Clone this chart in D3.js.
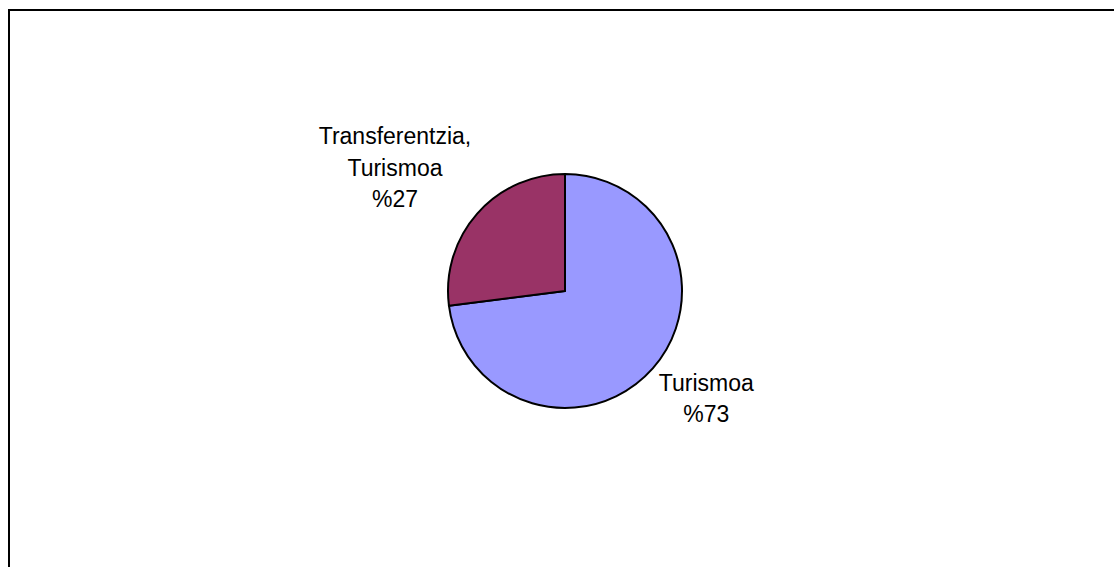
<!DOCTYPE html>
<html>
<head>
<meta charset="utf-8">
<script src="https://cdn.jsdelivr.net/npm/d3@7"></script>
<style>
  html, body { margin: 0; padding: 0; background: #fff; overflow: hidden; }
  svg { display: block; }
</style>
</head>
<body>
<div id="chart"></div>
<script>
// data
const categories = ['Turismoa', 'Transferentzia, Turismoa'];
const values = [73, 27];
const labelLines = [['Turismoa', '%73'], ['Transferentzia,', 'Turismoa', '%27']];
const colors = ['#9999FF', '#993366'];

const width = 1114, height = 567;
const cx = 565, cy = 291, radius = 117;

const svg = d3.select('#chart').html('')
  .append('svg')
  .attr('width', width)
  .attr('height', height);

// chart frame: only top and left edges show, the rest runs off the page
svg.append('path')
  .attr('d', `M9,${height + 5}V10H${width + 5}`)
  .attr('fill', 'none')
  .attr('stroke', '#000')
  .attr('stroke-width', 2);

const data = categories.map((c, i) => ({ name: c, value: values[i], lines: labelLines[i], color: colors[i] }));

const pie = d3.pie().sort(null).value(d => d.value);
const arc = d3.arc().innerRadius(0).outerRadius(radius);
const arcs = pie(data);

const g = svg.append('g').attr('transform', `translate(${cx},${cy})`);

g.selectAll('path')
  .data(arcs)
  .enter().append('path')
  .attr('d', arc)
  .attr('fill', d => d.data.color)
  .attr('stroke', '#000')
  .attr('stroke-width', 2)
  .attr('stroke-linejoin', 'round');

// labels: the corner of each text box nearest the pie sits on the slice's mid-angle
const lineH = 31.5;
arcs.forEach(a => {
  const mid = (a.startAngle + a.endAngle) / 2;
  const sx = Math.sin(mid), sy = -Math.cos(mid);
  const ax = sx * 125, ay = sy * 119;

  const t = g.append('text')
    .attr('text-anchor', 'middle')
    .attr('font-family', 'Liberation Sans, Arial, sans-serif')
    .attr('font-size', 23)
    .attr('fill', '#000');
  a.data.lines.forEach((line, i) => {
    t.append('tspan').attr('x', 0).attr('y', i * lineH).text(line);
  });
  const bb = t.node().getBBox();
  const dx = sx >= 0 ? ax - bb.x : ax - (bb.x + bb.width);
  const dy = sy >= 0 ? ay - bb.y : ay - (bb.y + bb.height);
  t.attr('transform', `translate(${dx},${dy})`);
});
</script>
</body>
</html>
